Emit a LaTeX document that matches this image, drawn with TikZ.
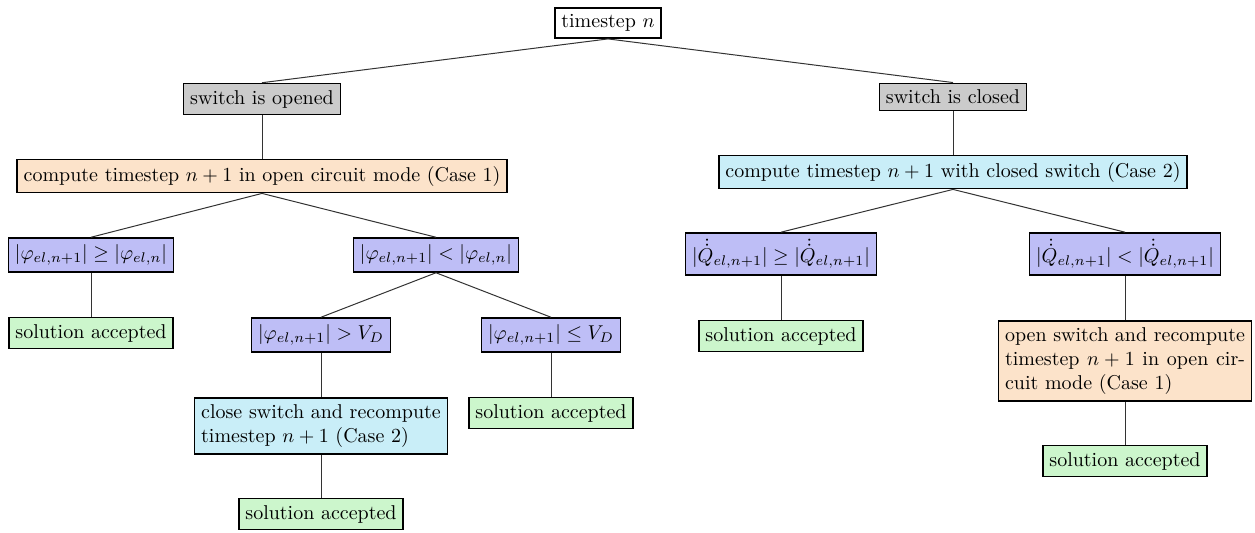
\documentclass[tikz,border=0pt]{standalone}
\usepackage{amsmath,amssymb}
\usepackage{tikz}
\usetikzlibrary{positioning}
\definecolor{SwitchGray}{HTML}{CBCBCB}
\definecolor{OpenPale}{HTML}{FCE3CA}
\definecolor{ClosedPale}{HTML}{C9EEF8}
\definecolor{TestBlue}{HTML}{BEBEF6}
\definecolor{AcceptPale}{HTML}{CCF6CC}
\begin{document}
\begin{tikzpicture}[
  x=0.5pt,y=-0.5pt,
  box/.style={draw=black,thick,fill=white,inner sep=3.3pt,font=\normalsize},
  state/.style={box,fill=SwitchGray},
  caseone/.style={box,fill=OpenPale},
  casetwo/.style={box,fill=ClosedPale},
  test/.style={box,fill=TestBlue},
  accept/.style={box,fill=AcceptPale},
  link/.style={draw=black!80,line width=0.5pt}
]
\useasboundingbox (0,0) rectangle (1255,532);
\node[box] (ts) at (608,23) {timestep $n$};
\node[state] (op) at (262,99) {switch is opened};
\node[state] (cl) at (953,97) {switch is closed};
\node[caseone] (ca) at (262,176) {compute timestep $n+1$ in open circuit mode (Case 1)};
\node[casetwo] (cb) at (953,172) {compute timestep $n+1$ with closed switch (Case 2)};
\node[test] (gea) at (91,255) {$|\varphi_{el,n+1}| \geq |\varphi_{el,n}|$};
\node[test] (lta) at (436,255) {$|\varphi_{el,n+1}| < |\varphi_{el,n}|$};
\node[accept] (s1) at (91,333) {solution accepted};
\node[test] (gtv) at (321,335) {$|\varphi_{el,n+1}| > V_D$};
\node[test] (lev) at (551,335) {$|\varphi_{el,n+1}| \leq V_D$};
\node[casetwo,align=left] (rc) at (321,426) {close switch and recompute\\timestep $n+1$ (Case 2)};
\node[accept] (s2) at (551,413) {solution accepted};
\node[accept] (s5) at (321,514) {solution accepted};
\node[test] (geb) at (781,254) {$|\dot{\dot{Q}}_{el,n+1}| \geq |\dot{\dot{Q}}_{el,n+1}|$};
\node[test] (ltb) at (1125,254) {$|\dot{\dot{Q}}_{el,n+1}| < |\dot{\dot{Q}}_{el,n+1}|$};
\node[accept] (s3) at (781,336) {solution accepted};
\node[caseone,text width=120pt,align=justify] (ro) at (1125,361) {open switch and recompute\linebreak timestep $n+1$ in open cir-\linebreak cuit mode (Case 1)};
\node[accept] (s4) at (1125,461) {solution accepted};
\draw[link] (ts.south)--(op.north); \draw[link] (ts.south)--(cl.north);
\draw[link] (op.south)--(ca.north); \draw[link] (cl.south)--(cb.north);
\draw[link] (ca.south)--(gea.north); \draw[link] (ca.south)--(lta.north);
\draw[link] (gea.south)--(s1.north);
\draw[link] (lta.south)--(gtv.north); \draw[link] (lta.south)--(lev.north);
\draw[link] (gtv.south)--(rc.north); \draw[link] (rc.south)--(s5.north);
\draw[link] (lev.south)--(s2.north);
\draw[link] (cb.south)--(geb.north); \draw[link] (cb.south)--(ltb.north);
\draw[link] (geb.south)--(s3.north);
\draw[link] (ltb.south)--(ro.north); \draw[link] (ro.south)--(s4.north);
\end{tikzpicture}
\end{document}
